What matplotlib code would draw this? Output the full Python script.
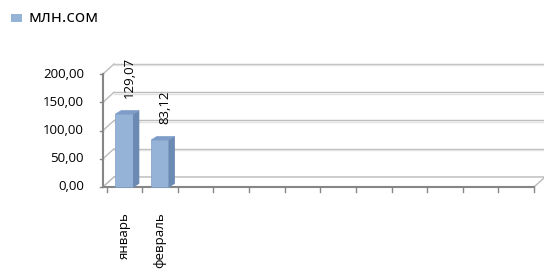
import numpy as np
import matplotlib
matplotlib.use('Agg')
import matplotlib.pyplot as plt
from matplotlib.patches import Polygon

plt.rcParams['font.family'] = ['Open Sans', 'DejaVu Sans']

# data
months = ['январь', 'февраль']
values = [129.07, 83.12]
n_slots = 12
series_name = 'млн.сом'
yticks = [0, 50, 100, 150, 200]

W, H = 544, 269
fig = plt.figure(figsize=(W / 100, H / 100), dpi=100)
ax_l, ax_r, ax_b, ax_t = 103, 534, 187, 74
ax = fig.add_axes([ax_l / W, 1 - ax_b / H, (ax_r - ax_l) / W, (ax_b - ax_t) / H])
ax.set_xlim(-0.6, n_slots - 0.5)
ax.set_ylim(0, 200)
ax.axis('off')

# pixel -> data helpers
px_x = (n_slots - 0.5 + 0.6) / (ax_r - ax_l)
px_y = 200 / (ax_b - ax_t)

# wall depth offset (pixels)
wdx, wdy = 11 * px_x, 10 * px_y
x0, x1 = -0.6, n_slots - 0.5

grid_dark = '#bcbcbc'
grid_light = '#e2e2e2'
for v in yticks:
    # back wall gridline (double line look)
    ax.plot([x0 + wdx, x1 + wdx], [v + wdy, v + wdy], color=grid_dark, lw=1.0, clip_on=False, zorder=1)
    ax.plot([x0 + wdx, x1 + wdx], [v + wdy - 1.4 * px_y, v + wdy - 1.4 * px_y], color=grid_light, lw=1.0, clip_on=False, zorder=1)
    # left wall diagonal
    ax.plot([x0, x0 + wdx], [v, v + wdy], color=grid_dark, lw=1.0, clip_on=False, zorder=1)
    # y tick mark
    ax.plot([x0 - 3 * px_x, x0], [v, v], color='#868686', lw=1.0, clip_on=False, zorder=3)
    ax.text(x0 - 19 * px_x, v, f'{v:.2f}'.replace('.', ','), ha='right', va='center',
            fontsize=9.5, color='#000000')

# floor
floor = Polygon([[x0, 0], [x1, 0], [x1 + wdx, wdy], [x0 + wdx, wdy]], closed=True,
                facecolor='#ffffff', edgecolor=grid_dark, lw=1.0, clip_on=False, zorder=1)
ax.add_patch(floor)
ax.plot([x0, x1], [0, 0], color='#868686', lw=1.5, clip_on=False, zorder=3)
ax.plot([x0, x0], [0, 200], color='#868686', lw=1.5, clip_on=False, zorder=3)
for k in range(n_slots + 1):
    ax.plot([k - 0.5, k - 0.5], [0, -5 * px_y], color='#868686', lw=1.0, clip_on=False, zorder=3)

# bars
bw = 0.5
bdx, bdy = 5.7 * px_x, 3.5 * px_y
front_c = '#95b3d7'
side_c = '#6a89b3'
top_c = '#7d9dc8'
for i, v in enumerate(values):
    l, r = i - bw / 2, i + bw / 2
    ax.bar(i, v, width=bw, color=front_c, edgecolor='#7f9cc4', lw=0.5, zorder=4, clip_on=False)
    ax.add_patch(Polygon([[r, 0], [r + bdx, bdy], [r + bdx, v + bdy], [r, v]],
                         facecolor=side_c, edgecolor=side_c, lw=0.5, zorder=4, clip_on=False))
    ax.add_patch(Polygon([[l, v], [r, v], [r + bdx, v + bdy], [l + bdx, v + bdy]],
                         facecolor=top_c, edgecolor=top_c, lw=0.5, zorder=4, clip_on=False))
    ax.text(i + bdx / 2 + 0.07, v + bdy + 13 * px_y, f'{v:.2f}'.replace('.', ','),
            rotation=90, ha='center', va='bottom', fontsize=9.5, color='#000000')

for i, m in enumerate(months):
    ax.text(i, -25 * px_y, m, rotation=90, ha='center', va='top', fontsize=9.5, color='#000000')

# legend
fig.patches.append(plt.Rectangle((10.7 / W, 1 - 21.7 / H), 11 / W, 7.7 / H,
                                 transform=fig.transFigure, facecolor=front_c, edgecolor='none'))
fig.text(28 / W, 1 - 18.5 / H, series_name, ha='left', va='center', fontsize=12.5, color='#000000')

fig.savefig('out.png', dpi=100)
